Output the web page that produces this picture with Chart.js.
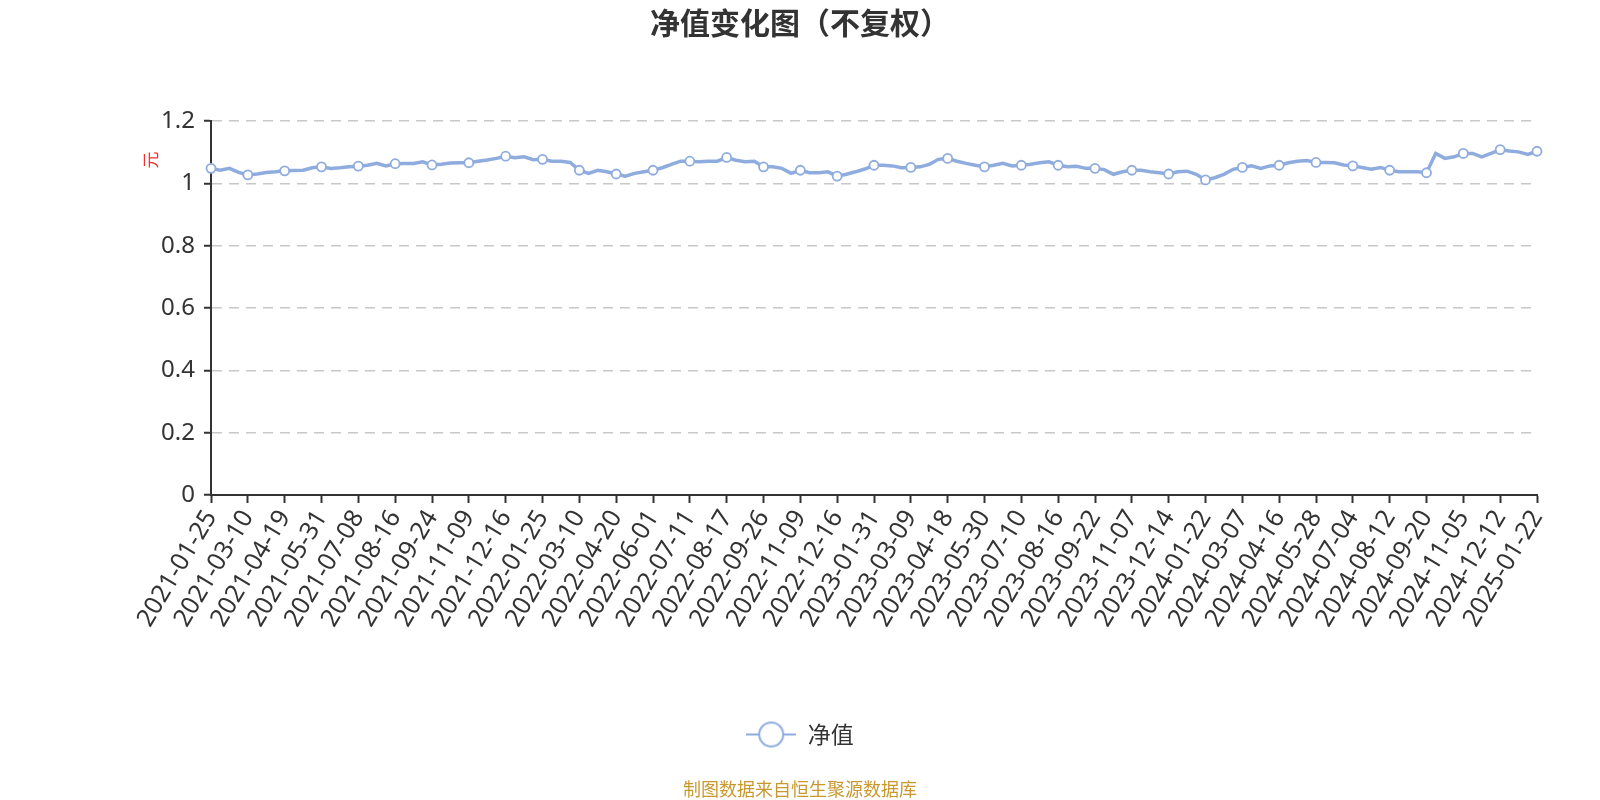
<!DOCTYPE html>
<html>
<head>
<meta charset="utf-8">
<script src="https://cdn.jsdelivr.net/npm/chart.js@4.4.1/dist/chart.umd.min.js"></script>
<style>
  html, body { margin: 0; padding: 0; background: #fff; }
  canvas { display: block; }
</style>
</head>
<body>
<canvas id="navChart" width="1600" height="800"></canvas>
<script>
// dates shown under the x axis, one per marker
const tickDates = [
    "2021-01-25", "2021-03-10", "2021-04-19", "2021-05-31", "2021-07-08", "2021-08-16",
    "2021-09-24", "2021-11-09", "2021-12-16", "2022-01-25", "2022-03-10", "2022-04-20",
    "2022-06-01", "2022-07-11", "2022-08-17", "2022-09-26", "2022-11-09", "2022-12-16",
    "2023-01-31", "2023-03-09", "2023-04-18", "2023-05-30", "2023-07-10", "2023-08-16",
    "2023-09-22", "2023-11-07", "2023-12-14", "2024-01-22", "2024-03-07", "2024-04-16",
    "2024-05-28", "2024-07-04", "2024-08-12", "2024-09-20", "2024-11-05", "2024-12-12",
    "2025-01-22",
];

// points between two labelled dates
const STEP = 4;

// net value (each row starts at a labelled date)
const navValues = [
    1.048, 1.042, 1.048, 1.035,
    1.027, 1.030, 1.035, 1.037,
    1.040, 1.041, 1.042, 1.050,
    1.053, 1.048, 1.050, 1.053,
    1.055, 1.058, 1.064, 1.056,
    1.063, 1.064, 1.064, 1.069,
    1.059, 1.061, 1.065, 1.066,
    1.066, 1.071, 1.075, 1.080,
    1.087, 1.082, 1.085, 1.076,
    1.077, 1.071, 1.071, 1.067,
    1.042, 1.032, 1.042, 1.037,
    1.030, 1.023, 1.032, 1.037,
    1.042, 1.050, 1.061, 1.071,
    1.071, 1.069, 1.071, 1.071,
    1.083, 1.074, 1.069, 1.071,
    1.053, 1.053, 1.048, 1.032,
    1.042, 1.034, 1.034, 1.037,
    1.023, 1.029, 1.037, 1.046,
    1.058, 1.058, 1.056, 1.050,
    1.051, 1.053, 1.061, 1.077,
    1.080, 1.071, 1.064, 1.058,
    1.053, 1.058, 1.064, 1.056,
    1.058, 1.061, 1.066, 1.069,
    1.058, 1.053, 1.055, 1.048,
    1.048, 1.044, 1.029, 1.037,
    1.042, 1.042, 1.037, 1.034,
    1.030, 1.037, 1.039, 1.029,
    1.011, 1.018, 1.029, 1.045,
    1.051, 1.056, 1.048, 1.056,
    1.058, 1.066, 1.071, 1.073,
    1.067, 1.067, 1.066, 1.059,
    1.056, 1.051, 1.045, 1.051,
    1.042, 1.037, 1.037, 1.037,
    1.034, 1.096, 1.080, 1.085,
    1.096, 1.096, 1.085, 1.096,
    1.108, 1.104, 1.101, 1.093,
    1.103,
];

const lineColor = "rgb(143, 172, 222)";
const textColor = "#333";

// category labels: a date every STEP points, blank in between
const labels = navValues.map((v, i) => (i % STEP === 0 ? tickDates[i / STEP] : ""));

// legend symbol: short line with a hollow circle on it
const legendIcon = document.createElement("canvas");
legendIcon.width = 50;
legendIcon.height = 28;
const ic = legendIcon.getContext("2d");
ic.strokeStyle = lineColor;
ic.lineWidth = 2;
ic.beginPath();
ic.moveTo(0, 14);
ic.lineTo(50, 14);
ic.stroke();
ic.beginPath();
ic.arc(25, 14, 12, 0, Math.PI * 2);
ic.fillStyle = "#fff";
ic.fill();
ic.stroke();

// unit label next to the y axis and the source note at the bottom
const extraText = {
    id: "extraText",
    afterDraw(chart) {
        const ctx = chart.ctx;
        const yScale = chart.scales.y;
        ctx.save();
        ctx.translate(chart.chartArea.left - 60, yScale.getPixelForValue(1.075));
        ctx.rotate(-Math.PI / 2);
        ctx.fillStyle = "#f03030";
        ctx.font = '17px "Noto Sans CJK SC"';
        ctx.textAlign = "center";
        ctx.textBaseline = "middle";
        ctx.fillText("元", 0, 0);
        ctx.restore();

        ctx.save();
        ctx.fillStyle = "#c9992f";
        ctx.font = '18px "Noto Sans CJK SC"';
        ctx.textAlign = "center";
        ctx.textBaseline = "middle";
        ctx.fillText("制图数据来自恒生聚源数据库", chart.width / 2, chart.height - 11);
        ctx.restore();
    },
};

const ctx = document.getElementById("navChart").getContext("2d");
new Chart(ctx, {
    type: "line",
    data: {
        labels: labels,
        datasets: [
            {
                label: "净值",
                data: navValues,
                borderColor: lineColor,
                borderWidth: 3.5,
                backgroundColor: "#fff",
                pointBackgroundColor: "#fff",
                pointBorderColor: lineColor,
                pointBorderWidth: 1.8,
                pointRadius: (c) => (c.dataIndex % STEP === 0 ? 4.5 : 0),
                tension: 0,
                fill: false,
            },
        ],
    },
    options: {
        responsive: false,
        devicePixelRatio: 1,
        animation: false,
        layout: { padding: { left: 0, right: 0, top: 0, bottom: 44 } },
        plugins: {
            tooltip: { enabled: false },
            title: {
                display: true,
                text: "净值变化图（不复权）",
                color: textColor,
                font: { family: '"Noto Sans CJK SC"', size: 30, weight: "bold" },
                padding: { top: 5, bottom: 80 },
            },
            legend: {
                position: "bottom",
                labels: {
                    usePointStyle: true,
                    pointStyle: legendIcon,
                    pointStyleWidth: 50,
                    color: textColor,
                    font: { family: '"Noto Sans CJK SC"', size: 23 },
                    padding: 18,
                },
            },
        },
        scales: {
            x: {
                afterFit(scale) {
                    scale.height = 210;
                    // keep the plot clear of the right edge, title and legend stay centred
                    scale.paddingRight = 63;
                },
                grid: {
                    drawOnChartArea: false,
                    tickLength: 8,
                    tickWidth: 2,
                    tickColor: (c) => (labels[c.index] ? textColor : "rgba(0,0,0,0)"),
                },
                border: { color: textColor, width: 2 },
                ticks: {
                    autoSkip: false,
                    minRotation: 59,
                    maxRotation: 59,
                    padding: 2,
                    color: textColor,
                    font: { family: '"Noto Sans"', size: 25 },
                },
            },
            y: {
                min: 0,
                max: 1.2,
                afterFit(scale) {
                    scale.width = 211;
                },
                grid: {
                    color: (c) => (c.tick.value === 0 ? "rgba(0,0,0,0)" : "#c8c8c8"),
                    lineWidth: 1.5,
                    tickLength: 7,
                    tickWidth: 2,
                    tickColor: textColor,
                    tickBorderDash: [],
                },
                border: { color: textColor, width: 2, dash: [10, 7] },
                ticks: {
                    stepSize: 0.2,
                    padding: 9,
                    color: textColor,
                    font: { family: '"Noto Sans"', size: 24 },
                    callback: (v) => String(+v.toFixed(1)),
                },
            },
        },
    },
    plugins: [extraText],
});
</script>
</body>
</html>
